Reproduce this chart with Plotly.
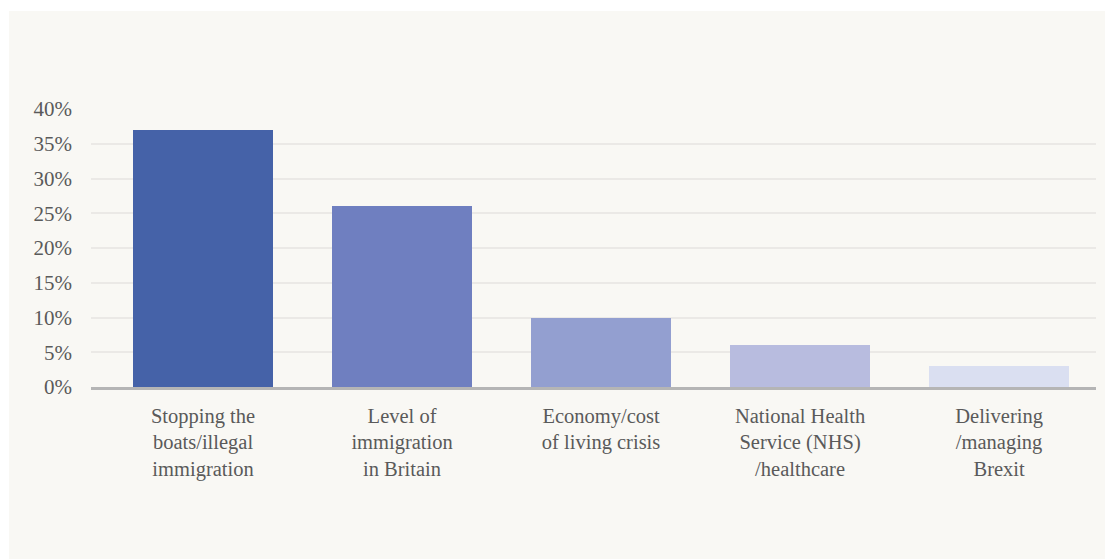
import plotly.graph_objects as go

# Survey: most important issue
categories = [
    "Stopping the<br>boats/illegal<br>immigration",
    "Level of<br>immigration<br>in Britain",
    "Economy/cost<br>of living crisis",
    "National Health<br>Service (NHS)<br>/healthcare",
    "Delivering<br>/managing<br>Brexit",
]
values = [37, 26, 10, 6, 3]
bar_colors = ["#4562a8", "#6f7fc0", "#939fd0", "#b8bcdf", "#dadff1"]
tick_vals = [0, 5, 10, 15, 20, 25, 30, 35, 40]
tick_text = ["0%", "5%", "10%", "15%", "20%", "25%", "30%", "35%", "40%"]

W, H = 1105, 559
L, R, T, B = 91, 9, 109, 172
pw, ph = W - L - R, H - T - B

def px_x(p):
    return (p - L) / pw

def px_y(p):
    return (H - B - p) / ph

x_pos = list(range(len(categories)))

fig = go.Figure(
    go.Bar(
        x=x_pos,
        y=values,
        width=0.703,
        marker=dict(color=bar_colors, line=dict(width=0)),
        hoverinfo="skip",
    )
)

fig.update_layout(
    width=W,
    height=H,
    margin=dict(l=L, r=R, t=T, b=B, pad=0),
    paper_bgcolor="#ffffff",
    plot_bgcolor="rgba(0,0,0,0)",
    font=dict(family="Liberation Serif, serif", color="#5a5a5a", size=20),
    showlegend=False,
    bargap=0,
    shapes=[
        dict(
            type="rect", xref="paper", yref="paper", layer="below",
            x0=px_x(9), x1=px_x(1110), y0=px_y(565), y1=px_y(11),
            fillcolor="#f9f8f4", line=dict(width=0),
        )
    ],
)

fig.update_xaxes(
    range=[-0.563, 4.487],
    tickmode="array",
    tickvals=x_pos,
    ticktext=categories,
    showgrid=False,
    zeroline=False,
    showline=True,
    linecolor="#b5b5b5",
    linewidth=3,
    ticks="",
    tickfont=dict(size=20.5, color="#5a5a5a"),
    ticklabelstandoff=8,
    fixedrange=True,
)

fig.update_yaxes(
    range=[0, 40],
    tickmode="array",
    tickvals=tick_vals,
    ticktext=tick_text,
    showgrid=True,
    gridcolor="#ebe9e6",
    gridwidth=2,
    zeroline=False,
    showline=False,
    ticks="",
    tickfont=dict(size=21, color="#5a5a5a"),
    ticklabelstandoff=18,
    fixedrange=True,
)

fig.write_html("out.html", config={"displayModeBar": False})
